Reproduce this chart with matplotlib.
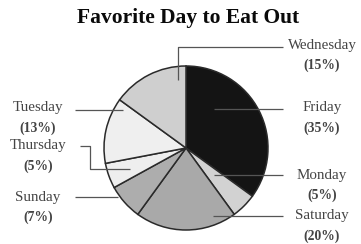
import matplotlib.pyplot as plt
import numpy as np

# data, clockwise from 12 o'clock
days = ['Friday', 'Monday', 'Saturday', 'Sunday', 'Thursday', 'Tuesday', 'Wednesday']
shares = [35, 5, 20, 7, 5, 13, 15]
colors = ['#141414', '#d2d2d2', '#a9a9a9', '#adadad', '#eeeeee', '#efefef', '#cfcfcf']

H = 244  # figure height in px, used to flip y so I can think in image pixels

def Y(y):
    return H - y

fig = plt.figure(figsize=(3.61, 2.44), dpi=100)
ax = fig.add_axes([0, 0, 1, 1])

ax.pie(shares, colors=colors, startangle=90, counterclock=False,
       center=(186, Y(148)), radius=82,
       wedgeprops=dict(edgecolor='#2a2a2a', linewidth=1.1))

ax.set_xlim(0, 361)
ax.set_ylim(0, H)
ax.set_aspect('equal')
ax.axis('off')

ax.text(188, Y(18), 'Favorite Day to Eat Out', ha='center', va='center',
        fontsize=15.5, fontweight='bold', family='Liberation Serif', color='#0a0a0a')

# label layout: (text x, name y, leader path in image px)
layout = {
    'Wednesday': (322, 45, [(283, 47), (178, 47), (178, 80)]),
    'Friday':    (322, 108, [(283, 109), (214, 109)]),
    'Monday':    (322, 175, [(283, 175), (214, 175)]),
    'Saturday':  (322, 216, [(283, 216), (213, 216)]),
    'Tuesday':   (38, 108, [(75, 110), (123, 110)]),
    'Thursday':  (38, 146, [(80, 146), (90, 146), (90, 169), (130, 169)]),
    'Sunday':    (38, 197, [(75, 197), (118, 197)]),
}

for day, share in zip(days, shares):
    tx, ty, path = layout[day]
    xs = [p[0] for p in path]
    ys = [Y(p[1]) for p in path]
    ax.plot(xs, ys, color='#555555', linewidth=0.9, solid_capstyle='butt')
    ax.text(tx, Y(ty), day, ha='center', va='center', fontsize=10.8,
            family='Liberation Serif', color='#444444')
    ax.text(tx, Y(ty + 20), '(%d%%)' % share, ha='center', va='center', fontsize=9.8,
            fontweight='bold', family='Liberation Serif', color='#444444')

fig.savefig('out.png', dpi=100)
